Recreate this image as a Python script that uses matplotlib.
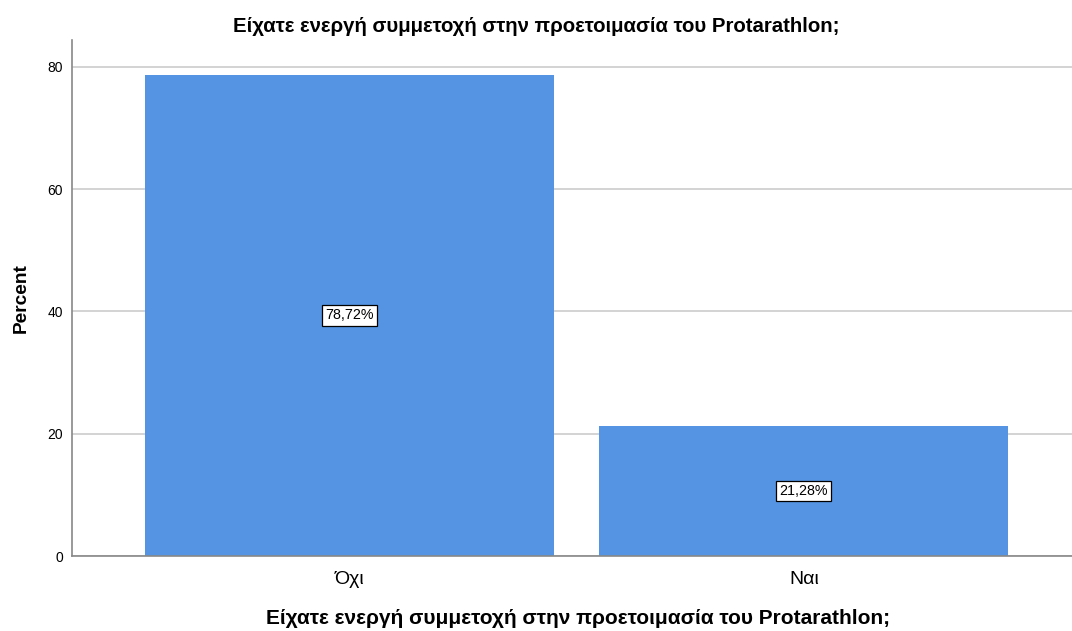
import matplotlib
matplotlib.use("Agg")
import matplotlib.pyplot as plt

categories = ["Όχι", "Ναι"]
percents = [78.72, 21.28]
labels = ["78,72%", "21,28%"]
title = "Είχατε ενεργή συμμετοχή στην προετοιμασία του Protarathlon;"

plt.rcParams["font.family"] = ["Liberation Sans", "DejaVu Sans"]

fig = plt.figure(figsize=(10.72, 6.31), dpi=100)
ax = fig.add_axes([72 / 1072, 1 - 556 / 631, 1 - 72 / 1072, (556 - 40) / 631])

x = range(len(categories))
ax.bar(x, percents, width=0.9, color="#5494E3", zorder=2)

# value boxes in the middle of each bar
for xi, p, lab in zip(x, percents, labels):
    ax.text(xi, p / 2, lab, ha="center", va="center", fontsize=10.3, zorder=3,
            bbox=dict(boxstyle="square,pad=0.22", fc="white", ec="black", lw=0.9))

ax.set_xlim(-0.61, 1.59)
ax.set_ylim(0, 84.4)
ax.set_yticks([0, 20, 40, 60, 80])
ax.set_xticks(list(x))
ax.set_xticklabels(categories, fontsize=14)
ax.tick_params(axis="y", labelsize=10, length=0, pad=6.5)
ax.tick_params(axis="x", length=0, pad=11)
ax.yaxis.grid(True, color="#cccccc", lw=1.2, zorder=0)

for side in ["top", "right"]:
    ax.spines[side].set_visible(False)
for side in ["left", "bottom"]:
    ax.spines[side].set_color("#888888")
    ax.spines[side].set_linewidth(1.2)

ax.set_ylabel("Percent", fontsize=13.8, fontweight="bold", labelpad=13)
fig.text(578 / 1072, 1 - 619 / 631, title, ha="center", va="center",
         fontsize=15, fontweight="bold")
fig.text(0.5, 1 - 27 / 631, title, ha="center", va="center",
         fontsize=14.7, fontweight="bold")

fig.savefig("out.png", dpi=100)
